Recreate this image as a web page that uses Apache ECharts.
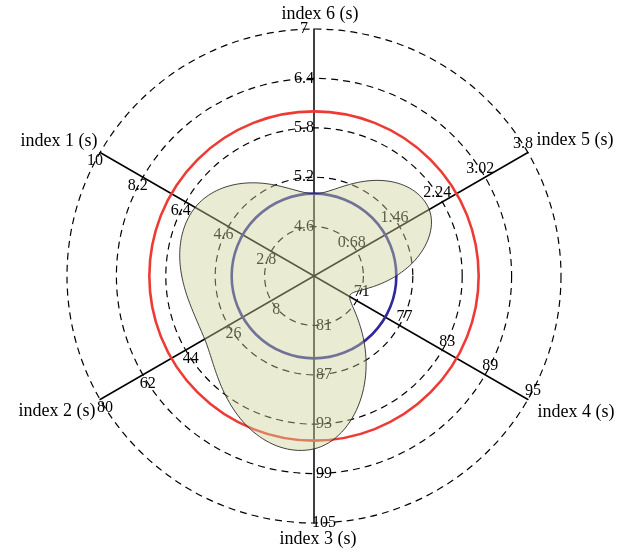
<!DOCTYPE html>
<html><head><meta charset="utf-8">
<script src="https://cdn.jsdelivr.net/npm/echarts@6/dist/echarts.min.js"></script>
<style>html,body{margin:0;padding:0;background:#fff}#c{width:632px;height:554px}</style>
</head><body><div id="c"></div>
<script>
// Indicators, counter-clockwise from top
const indicatorNames = ['index 6 (s)', 'index 1 (s)', 'index 2 (s)', 'index 3 (s)', 'index 4 (s)', 'index 5 (s)'];
const indicatorMin = [4, 1, -10, 75, 65, -0.1];
const indicatorMax = [7, 10, 80, 105, 95, 3.8];
// Series values (one per indicator)
const seriesValues = [5.0, 6.0, 36, 96, 70, 2.0];
// Reference circles, in units of the first indicator (index 6)
const circleValues = [6.0, 5.0];
const circleColors = ['#ee3a34', '#2e2996'];

const FONT = 'Liberation Serif';
const CENTER = [314, 276];
const RADIUS = 247;
// name label anchor points (layout only)
const namePos = [[320, 14], [59, 141], [57, 411], [318, 539], [576, 412], [575, 140]];

const chart = echarts.init(document.getElementById('c'));
const frac = (v, i) => (v - indicatorMin[i]) / (indicatorMax[i] - indicatorMin[i]);
const n = indicatorNames.length;
const step = 360 / n;

chart.setOption({
  animation: false,
  backgroundColor: '#fff',
  radar: {
    center: CENTER, radius: RADIUS, startAngle: 90, splitNumber: 5, shape: 'circle',
    indicator: indicatorNames.map((nm, i) => ({ name: nm, min: indicatorMin[i], max: indicatorMax[i] })),
    axisName: { show: false },
    axisLine: { lineStyle: { color: '#000', width: 1.5 } },
    splitLine: { lineStyle: { color: '#000', type: [7, 5], width: 1.2 } },
    splitArea: { show: false },
    axisTick: { show: false },
    axisLabel: { show: true, showMinLabel: false, color: '#000', fontSize: 16, fontFamily: FONT,
      margin: 10, align: 'center', verticalAlign: 'middle' }
  },
  graphic: indicatorNames.map((nm, i) => ({
    type: 'text', x: namePos[i][0], y: namePos[i][1], silent: true, z: 10,
    style: { text: nm, fill: '#000', font: '18px "' + FONT + '"', align: 'center', verticalAlign: 'middle' }
  })),
  polar: { center: CENTER, radius: RADIUS },
  angleAxis: { type: 'value', min: 0, max: 360, startAngle: 90, clockwise: false, show: false },
  radiusAxis: { type: 'value', min: 0, max: 1, show: false },
  series: [
    {
      type: 'custom', coordinateSystem: 'polar', z: 3, silent: true,
      data: circleValues.map((v, k) => [frac(v, 0), 0, k]),
      renderItem: function (params, api) {
        const c = api.coord([0, 0]);
        const p = api.coord([api.value(0), 0]);
        const r = Math.hypot(p[0] - c[0], p[1] - c[1]);
        return { type: 'circle', shape: { cx: c[0], cy: c[1], r: r },
          style: { fill: 'none', stroke: circleColors[api.value(2)], lineWidth: 2.6 } };
      }
    },
    {
      type: 'custom', coordinateSystem: 'polar', z: 5, silent: true,
      data: [[0, 0]],
      renderItem: function (params, api) {
        // smooth closed curve through the data points, spline in (angle, radius)
        const r = seriesValues.map((v, i) => frac(v, i));
        const m = r.map((_, i) => (r[(i + 1) % n] - r[(i - 1 + n) % n]) / 2);
        const pts = [];
        const N = 48;
        for (let i = 0; i < n; i++) {
          const j = (i + 1) % n;
          for (let s = 0; s < N; s++) {
            const t = s / N, t2 = t * t, t3 = t2 * t;
            const rr = (2 * t3 - 3 * t2 + 1) * r[i] + (t3 - 2 * t2 + t) * m[i]
                     + (-2 * t3 + 3 * t2) * r[j] + (t3 - t2) * m[j];
            pts.push(api.coord([rr, (i + t) * step]));
          }
        }
        return { type: 'polygon', shape: { points: pts },
          style: { fill: 'rgba(204,211,152,0.43)', stroke: '#2a2a2a', lineWidth: 0.9 } };
      }
    }
  ]
});
</script></body></html>
